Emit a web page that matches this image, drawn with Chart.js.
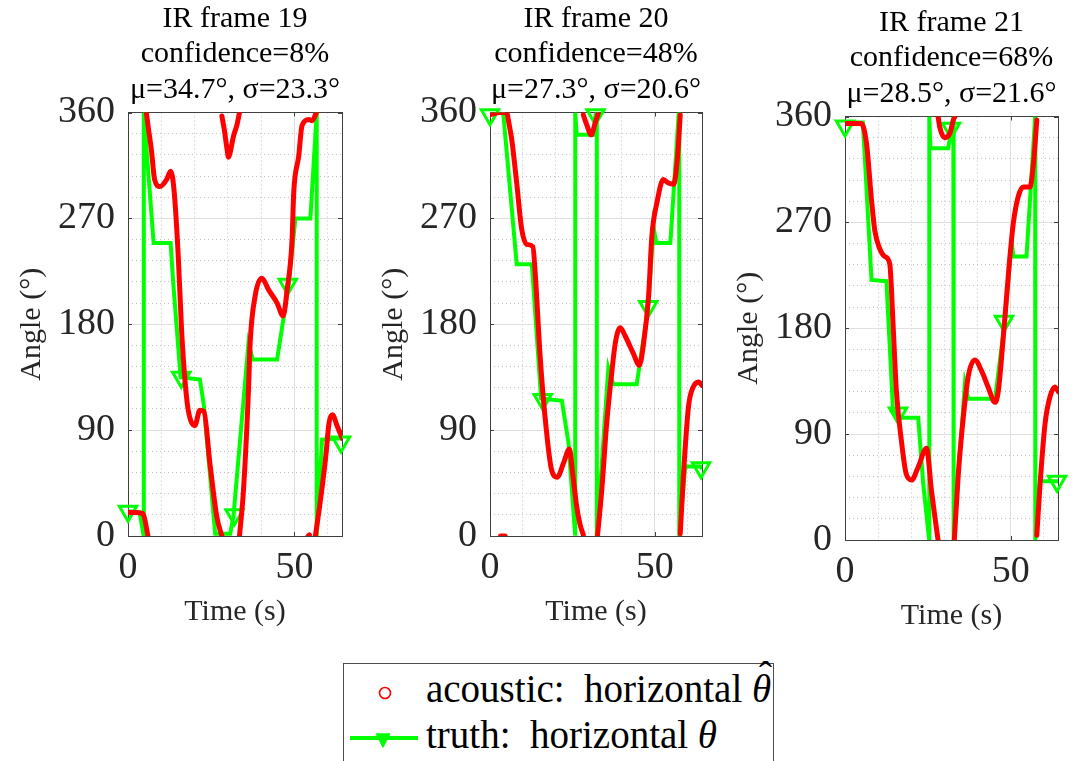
<!DOCTYPE html>
<html>
<head>
<meta charset="utf-8">
<script src="https://cdn.jsdelivr.net/npm/chart.js@4.4.1/dist/chart.umd.min.js"></script>
<style>
html, body { margin:0; padding:0; background:#fff; width:1074px; height:761px; overflow:hidden; position:relative; }
canvas { position:absolute; }
#legend { position:absolute; left:343px; top:663px; width:431px; height:110px; border:1px solid #4d4d4d; box-sizing:border-box; background:#fff; }
#legend svg { position:absolute; left:0; top:0; }
.lg { position:absolute; left:82px; font-family:'Liberation Serif', serif; font-size:39px; line-height:39px; color:#000; white-space:nowrap; }
.hatwrap { position:relative; display:inline-block; }
.hat { position:absolute; left:7px; top:-13px; font-style:normal; }
</style>
</head>
<body>
<canvas id="c19" width="360" height="640" style="left:0px;top:0px"></canvas>
<canvas id="c20" width="360" height="640" style="left:362px;top:0px"></canvas>
<canvas id="c21" width="357" height="640" style="left:717px;top:4px"></canvas>
<div id="legend">
  <svg width="430" height="110">
    <circle cx="41" cy="29" r="5.5" fill="none" stroke="#ff0000" stroke-width="1.6"/>
    <line x1="6" y1="74" x2="74" y2="74" stroke="#00ff00" stroke-width="4"/>
    <polygon points="32.5,70 45.5,70 39,83" fill="#00ff00" stroke="#00ff00" stroke-width="1.5" stroke-linejoin="round"/>
  </svg>
  <div class="lg" style="top:5px">acoustic:&nbsp; horizontal <span class="hatwrap"><i>θ</i><span class="hat">ˆ</span></span></div>
  <div class="lg" style="top:51px">truth:&nbsp; horizontal <i>θ</i></div>
</div>
<script>
// ---------- tick values ----------
const timeTicks = [0, 50];
const timeMinorTicks = [10, 20, 30, 40, 60];
const angleTicks = [0, 90, 180, 270, 360];
const angleMinorTicks = [18, 36, 54, 72, 108, 126, 144, 162, 198, 216, 234, 252, 288, 306, 324, 342];
const timeMax = 64.3;

// ---------- titles ----------
const title19 = ['IR frame 19', 'confidence=8%', 'μ=34.7°, σ=23.3°'];
const title20 = ['IR frame 20', 'confidence=48%', 'μ=27.3°, σ=20.6°'];
const title21 = ['IR frame 21', 'confidence=68%', 'μ=28.5°, σ=21.6°'];

// ---------- IR frame 19 ----------
const acoustic19T = [0, 2, 4.5, 6.0, 6.0,
  5.5, 6.2, 7.0, 8.0, 9.6, 11.6, 12.8, 13.8, 15.1, 16.1, 17.1, 18.1, 20.1, 21.6, 22.8, 24.6, 26.7, 28.2, 28.2,
  28.2, 28.9, 29.7, 30.2, 30.7, 31.7, 32.7, 33.5, 33.5,
  33.5, 34.7, 36.2, 36.7, 38.2, 40.2, 42.3, 44.8, 46.6, 47.8, 49.3, 49.8, 51.3, 52.3, 54.3, 55.3, 56.6, 56.6,
  54.1, 54.5, 54.5,
  56.3, 57.8, 59.4, 60.4, 61.4, 62.9, 64.4];
const acoustic19A = [20, 20, 19, 0, null,
  360, 345, 329, 303, 297, 303, 310, 295, 238, 175, 133, 107, 94, 107, 106, 62, 16, 0, null,
  357, 346, 330, 322, 326, 340, 349, 360, null,
  0, 39, 124, 164, 204, 219, 209, 198, 187, 209, 252, 292, 323, 349, 354, 353, 360, null,
  0, 1, null,
  0, 30, 67, 96, 103, 93, 83];
const truth19T = [0, 3.5, 4.7, 4.75, 7.7, 12.8, 13.6, 15.8, 21.6, 22.8, 26.2, 30.7, 31.7, 36.2, 37.5, 44.8, 48.3, 50.3, 54.8, 56.7, 56.7, 58.3, 63.9, 64.3];
const truth19A = [21, 20, 0, 360, 249, 249, 215, 135, 133, 111, 2, 2, 17, 164, 150, 150, 214, 270, 270, 360, 0, 82, 83, 82];
const marker19T = [0, 16, 32, 48, 64];
const marker19A = [21, 135, 18, 214, 80];

// ---------- IR frame 20 ----------
const acoustic20T = [3.2, 4.6, 4.6,
  0, 3, 5, 5.8, 6.6, 8.1, 9.6, 11.1, 13.0, 13.7, 15.2, 16.7, 18.7, 20.4, 22.3, 24.1, 25.0, 26.3, 27.3, 28.3, 28.3,
  28.3, 29.4, 30.7, 31.9, 32.9, 32.9,
  32.6, 33.9, 35.4, 36.9, 38.0, 39.5, 41.0, 43.5, 45.3, 46.6, 48.1, 49.1, 50.6, 52.6, 54.1, 55.7, 56.9, 57.7, 57.7,
  57.7, 58.7, 60.2, 61.7, 63.3, 64.3];
const acoustic20A = [0, 0, null,
  358, 360, 360, 350, 337, 300, 261, 248, 246, 224, 153, 101, 56, 50, 62, 74, 55, 25, 10, 1, null,
  358, 349, 341, 351, 360, null,
  0, 39, 96, 138, 164, 177, 170, 155, 145, 164, 204, 255, 283, 303, 300, 299, 323, 358, null,
  2, 53, 110, 127, 131, 128];
const truth20T = [0, 4, 8.1, 12.7, 15.5, 21.8, 23.8, 25.8, 25.85, 26.3, 31.4, 32.0, 32.4, 32.4, 35.9, 37.4, 44.5, 48.0, 49.6, 50.4, 54.7, 57.2, 57.4, 57.4, 59.2, 63.8, 64.3];
const truth20A = [360, 360, 231, 231, 117, 115, 79, 2, 360, 341, 341, 358, 360, 0, 143, 129, 129, 195, 263, 249, 249, 358, 360, 0, 59, 59, 57];
const marker20T = [0, 16, 32, 48, 64];
const marker20A = [358, 116, 358, 195, 58];

// ---------- IR frame 21 ----------
const acoustic21T = [0, 4.9, 6.5, 8.0, 9.0, 10.3, 12.0, 13.5, 14.5, 15.5, 17.0, 18.5, 20.1, 22.1, 24.6, 26.1, 27.4, 28.1, 28.1,
  28.1, 28.6, 30.1, 31.7, 32.7, 33.2, 33.2,
  33.0, 34.2, 35.7, 37.2, 39.2, 41.2, 43.2, 45.3, 46.3, 47.8, 49.6, 50.8, 52.3, 53.8, 55.8, 56.9, 57.9, 57.9,
  57.9, 58.9, 60.4, 61.9, 63.4, 64.4];
const acoustic21A = [354, 354, 337, 289, 263, 249, 241, 235, 184, 127, 85, 56, 51, 62, 78, 42, 14, 0, null,
  360, 351, 342, 346, 357, 360, null,
  0, 56, 104, 139, 153, 144, 130, 117, 127, 173, 235, 269, 292, 300, 300, 320, 357, null,
  4, 48, 99, 122, 130, 126];
const truth21T = [0, 5.4, 8.0, 12.5, 14.5, 16.5, 22.1, 23.6, 25.4, 25.45, 25.8, 31.1, 32.7, 32.8, 32.8, 36.2, 37.2, 45.3, 48.3, 50.3, 50.8, 54.8, 57.4, 57.45, 58.9, 64.3];
const truth21A = [355, 355, 221, 220, 110, 104, 104, 48, 0, 360, 333, 333, 355, 360, 0, 133, 120, 120, 187, 255, 241, 241, 360, 0, 50, 50];
const marker21T = [0, 16, 32, 48, 64];
const marker21A = [352, 108, 350, 186, 50];

// ---------- styling ----------
const SERIF = "'Liberation Serif', 'DejaVu Serif', serif";
const AX = '#404040';
const TXT = '#262626';

function pts(T, A) { return T.map((t, i) => ({ x: t, y: A[i] })); }

const innerTicks = {
  id: 'innerTicks',
  beforeDatasetsDraw(chart) {
    const { ctx, chartArea: a, scales: { x, y } } = chart;
    ctx.save();
    ctx.strokeStyle = AX; ctx.lineWidth = 1; ctx.beginPath();
    timeTicks.forEach(v => {
      const px = Math.round(x.getPixelForValue(v)) + 0.5;
      ctx.moveTo(px, a.bottom); ctx.lineTo(px, a.bottom - 4);
      ctx.moveTo(px, a.top); ctx.lineTo(px, a.top + 4);
    });
    angleTicks.forEach(v => {
      const py = Math.round(y.getPixelForValue(v)) + 0.5;
      ctx.moveTo(a.left, py); ctx.lineTo(a.left + 4, py);
      ctx.moveTo(a.right, py); ctx.lineTo(a.right - 4, py);
    });
    ctx.stroke(); ctx.restore();
  }
};

function makeChart(id, title, acT, acA, trT, trA, mkT, mkA, rightPad) {
  return new Chart(document.getElementById(id), {
    type: 'scatter',
    data: {
      datasets: [
        { label: 'acoustic: horizontal θ̂', data: pts(acT, acA), showLine: true, borderColor: '#ff0000',
          borderWidth: 5, pointRadius: 0, cubicInterpolationMode: 'monotone', spanGaps: false,
          borderCapStyle: 'round', borderJoinStyle: 'round' },
        { label: 'truth markers', data: pts(mkT, mkA), showLine: false, pointStyle: 'triangle', pointRotation: 180,
          pointRadius: 10, pointBorderWidth: 3, pointBorderColor: '#00ff00', pointBackgroundColor: 'rgba(0,0,0,0)', clip: false },
        { label: 'truth: horizontal θ', data: pts(trT, trA), showLine: true, borderColor: '#00ff00',
          borderWidth: 4, pointRadius: 0, tension: 0, spanGaps: false, borderJoinStyle: 'miter' }
      ]
    },
    options: {
      responsive: false, animation: false, devicePixelRatio: 1, events: [],
      layout: { padding: { left: 0, right: rightPad, top: 0, bottom: 0 } },
      plugins: {
        legend: { display: false }, tooltip: { enabled: false },
        title: { display: true, text: title, fullSize: false, color: '#000',
          font: { family: SERIF, size: 30, weight: 'normal', lineHeight: '35.5px' },
          padding: { top: 1, bottom: 5 } }
      },
      scales: {
        x: { type: 'linear', position: 'bottom', min: 0, max: timeMax,
          afterBuildTicks: s => { s.ticks = timeTicks.map(v => ({ value: v })); },
          ticks: { color: TXT, font: { family: SERIF, size: 38 }, padding: 9, maxRotation: 0, autoSkip: false },
          grid: { color: '#dfdfdf', lineWidth: 1, drawTicks: false },
          border: { display: true, color: AX, width: 1 },
          title: { display: true, text: 'Time (s)', color: TXT, font: { family: SERIF, size: 30 }, padding: { top: 0, bottom: 10 } },
          afterFit: s => { s.height = 104; } },
        xMinor: { type: 'linear', position: 'bottom', min: 0, max: timeMax,
          afterBuildTicks: s => { s.ticks = timeMinorTicks.map(v => ({ value: v })); },
          ticks: { display: false }, grid: { color: '#c2c2c2', lineWidth: 1, drawTicks: false },
          border: { display: false, dash: [1, 3] }, afterFit: s => { s.height = 0; } },
        xTop: { type: 'linear', position: 'top', min: 0, max: timeMax,
          ticks: { display: false }, grid: { display: false, drawTicks: false },
          border: { display: true, color: AX, width: 1 }, afterFit: s => { s.height = 0; } },
        y: { type: 'linear', position: 'left', min: 0, max: 360,
          afterBuildTicks: s => { s.ticks = angleTicks.map(v => ({ value: v })); },
          ticks: { color: TXT, font: { family: SERIF, size: 38 }, padding: 13 },
          grid: { color: '#dfdfdf', lineWidth: 1, drawTicks: false },
          border: { display: true, color: AX, width: 1 },
          title: { display: true, text: 'Angle (°)', color: TXT, font: { family: SERIF, size: 30 }, padding: { top: 14, bottom: 0 } },
          afterFit: s => { s.width = 128; } },
        yMinor: { type: 'linear', position: 'left', min: 0, max: 360,
          afterBuildTicks: s => { s.ticks = angleMinorTicks.map(v => ({ value: v })); },
          ticks: { display: false }, grid: { color: '#c2c2c2', lineWidth: 1, drawTicks: false },
          border: { display: false, dash: [1, 3] }, afterFit: s => { s.width = 0; } },
        yRight: { type: 'linear', position: 'right', min: 0, max: 360,
          ticks: { display: false }, grid: { display: false, drawTicks: false },
          border: { display: true, color: AX, width: 1 }, afterFit: s => { s.width = 0; } }
      }
    },
    plugins: [innerTicks]
  });
}

makeChart('c19', title19, acoustic19T, acoustic19A, truth19T, truth19A, marker19T, marker19A, 18);
makeChart('c20', title20, acoustic20T, acoustic20A, truth20T, truth20A, marker20T, marker20A, 20);
makeChart('c21', title21, acoustic21T, acoustic21A, truth21T, truth21A, marker21T, marker21A, 16);
</script>
</body>
</html>
